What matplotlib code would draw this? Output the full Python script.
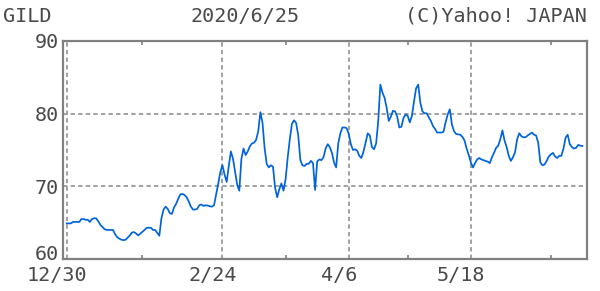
import matplotlib
matplotlib.use("Agg")
import matplotlib.pyplot as plt
import matplotlib.transforms as mtransforms

# ---- data (two samples per trading day, 2019/12/30 .. 2020/6/25) ----
prices = [
    64.9, 64.9, 64.9, 65.1, 65.1, 65.1, 65.1, 65.5, 65.5, 65.4,
    65.4, 65.1, 65.5, 65.6, 65.6, 65.2, 64.7, 64.4, 64.1, 64.0,
    64.0, 64.0, 64.0, 63.4, 63.0, 62.8, 62.65, 62.6, 62.65, 62.95,
    63.25, 63.65, 63.7, 63.5, 63.25, 63.5, 63.75, 64.0, 64.3, 64.3,
    64.3, 64.0, 64.0, 63.6, 63.2, 65.6, 66.8, 67.2, 66.9, 66.3,
    66.2, 67.1, 67.6, 68.3, 68.9, 68.95, 68.8, 68.5, 67.9, 67.2,
    66.8, 66.8, 66.9, 67.4, 67.5, 67.3, 67.4, 67.35, 67.25, 67.2,
    67.4, 68.9, 70.4, 72.0, 72.9, 71.6, 70.6, 72.8, 74.8, 73.8,
    72.0, 70.2, 69.4, 73.8, 75.2, 74.3, 74.8, 75.5, 75.9, 76.0,
    76.4, 77.6, 80.2, 78.8, 75.3, 73.1, 72.6, 72.9, 72.7, 69.8,
    68.5, 69.6, 70.4, 69.4, 71.0, 74.0, 76.5, 78.6, 79.1, 78.7,
    77.0, 73.6, 72.9, 72.8, 73.1, 73.1, 73.5, 73.2, 69.5, 73.4,
    73.7, 73.6, 74.0, 75.2, 75.8, 75.4, 74.6, 73.3, 72.6, 75.9,
    77.3, 78.1, 78.1, 78.0, 77.2, 75.8, 75.0, 75.1, 74.9, 74.2,
    73.9, 74.8, 76.0, 77.3, 77.0, 75.4, 75.1, 75.9, 79.0, 84.0,
    82.9, 82.2, 80.8, 79.0, 79.6, 80.4, 80.3, 79.6, 78.1, 78.2,
    79.4, 79.9, 79.7, 78.8, 79.7, 81.7, 83.5, 84.0, 81.5, 80.3,
    80.05, 80.05, 79.5, 79.0, 78.3, 77.9, 77.4, 77.4, 77.4, 77.5,
    78.8, 79.9, 80.6, 78.5, 77.6, 77.2, 77.15, 77.1, 76.8, 76.3,
    75.2, 74.3, 73.3, 72.6, 73.2, 73.7, 73.9, 73.7, 73.6, 73.5,
    73.4, 73.2, 74.0, 74.6, 75.3, 75.6, 76.5, 77.7, 76.3, 75.4,
    74.2, 73.5, 74.0, 74.7, 76.5, 77.3, 76.9, 76.75, 76.75, 77.0,
    77.2, 77.4, 77.1, 77.0, 76.0, 73.3, 72.9, 73.0, 73.5, 74.1,
    74.4, 74.6, 74.1, 73.9, 74.2, 74.2, 75.2, 76.7, 77.1, 75.8,
    75.4, 75.2, 75.3, 75.7, 75.6, 75.55,
]
x_tick_pos = [0, 74, 134, 192]
x_tick_labels = ["12/30", "2/24", "4/6", "5/18"]
x_minor_pos = [36, 104, 162, 230]
y_ticks = [60, 70, 80, 90]
y_grid = [70, 80]
ticker = "GILD"
date_text = "2020/6/25"
credit = "(C)Yahoo! JAPAN"

W, H = 600, 291
fig = plt.figure(figsize=(W / 100, H / 100), dpi=100)
fig.patch.set_facecolor("white")
L, R, T, B = 63, 587, 41, 259
ax = fig.add_axes([L / W, 1 - B / H, (R - L) / W, (B - T) / H])

xs = list(range(len(prices)))
x0_px, step_px = 66.7, 2.105
ax.set_xlim((L - x0_px) / step_px, (R - x0_px) / step_px)
ax.set_ylim(60, 90)

grid_kw = dict(color="#9a9a9a", lw=1.3, ls=(0, (2.4, 1.8)), zorder=1)
for v in y_grid:
    ax.axhline(v, **grid_kw)
for p in x_tick_pos:
    ax.axvline(p, **grid_kw)

ax.plot(xs, prices, color="#0064dc", lw=1.25, zorder=3)

for s in ax.spines.values():
    s.set_color("#808080")
    s.set_linewidth(1.6)

mono = "DejaVu Sans Mono"
tc = "#4a4a4a"
fs = 14.5
ax.set_yticks(y_ticks)
ax.set_yticklabels([str(v) for v in y_ticks], fontfamily=mono, fontsize=fs, color=tc)
ax.set_xticks(x_tick_pos)
ax.set_xticklabels(x_tick_labels, fontfamily=mono, fontsize=fs, color=tc)
ax.tick_params(axis="y", which="major", length=0, pad=3)
ax.tick_params(axis="x", which="major", length=0, pad=5)
ax.set_xticks(x_minor_pos, minor=True)
ax.tick_params(axis="x", which="minor", direction="in", length=3, width=1.2,
               color="#808080", top=True, bottom=True)
off = mtransforms.ScaledTranslation(-10 / 100, 0, fig.dpi_scale_trans)
for lab in ax.get_xticklabels():
    lab.set_transform(lab.get_transform() + off)
up = mtransforms.ScaledTranslation(0, 6 / 100, fig.dpi_scale_trans)
ylabs = ax.get_yticklabels()
ylabs[0].set_transform(ylabs[0].get_transform() + up)

ty = 1 - 16 / H
fig.text(3 / W, ty, ticker, fontfamily=mono, fontsize=fs, color=tc, va="center", ha="left")
fig.text(190 / W, ty, date_text, fontfamily=mono, fontsize=fs, color=tc, va="center", ha="left")
fig.text(587 / W, ty, credit, fontfamily=mono, fontsize=fs, color=tc, va="center", ha="right")

fig.savefig("out.png", dpi=100, facecolor="white")
